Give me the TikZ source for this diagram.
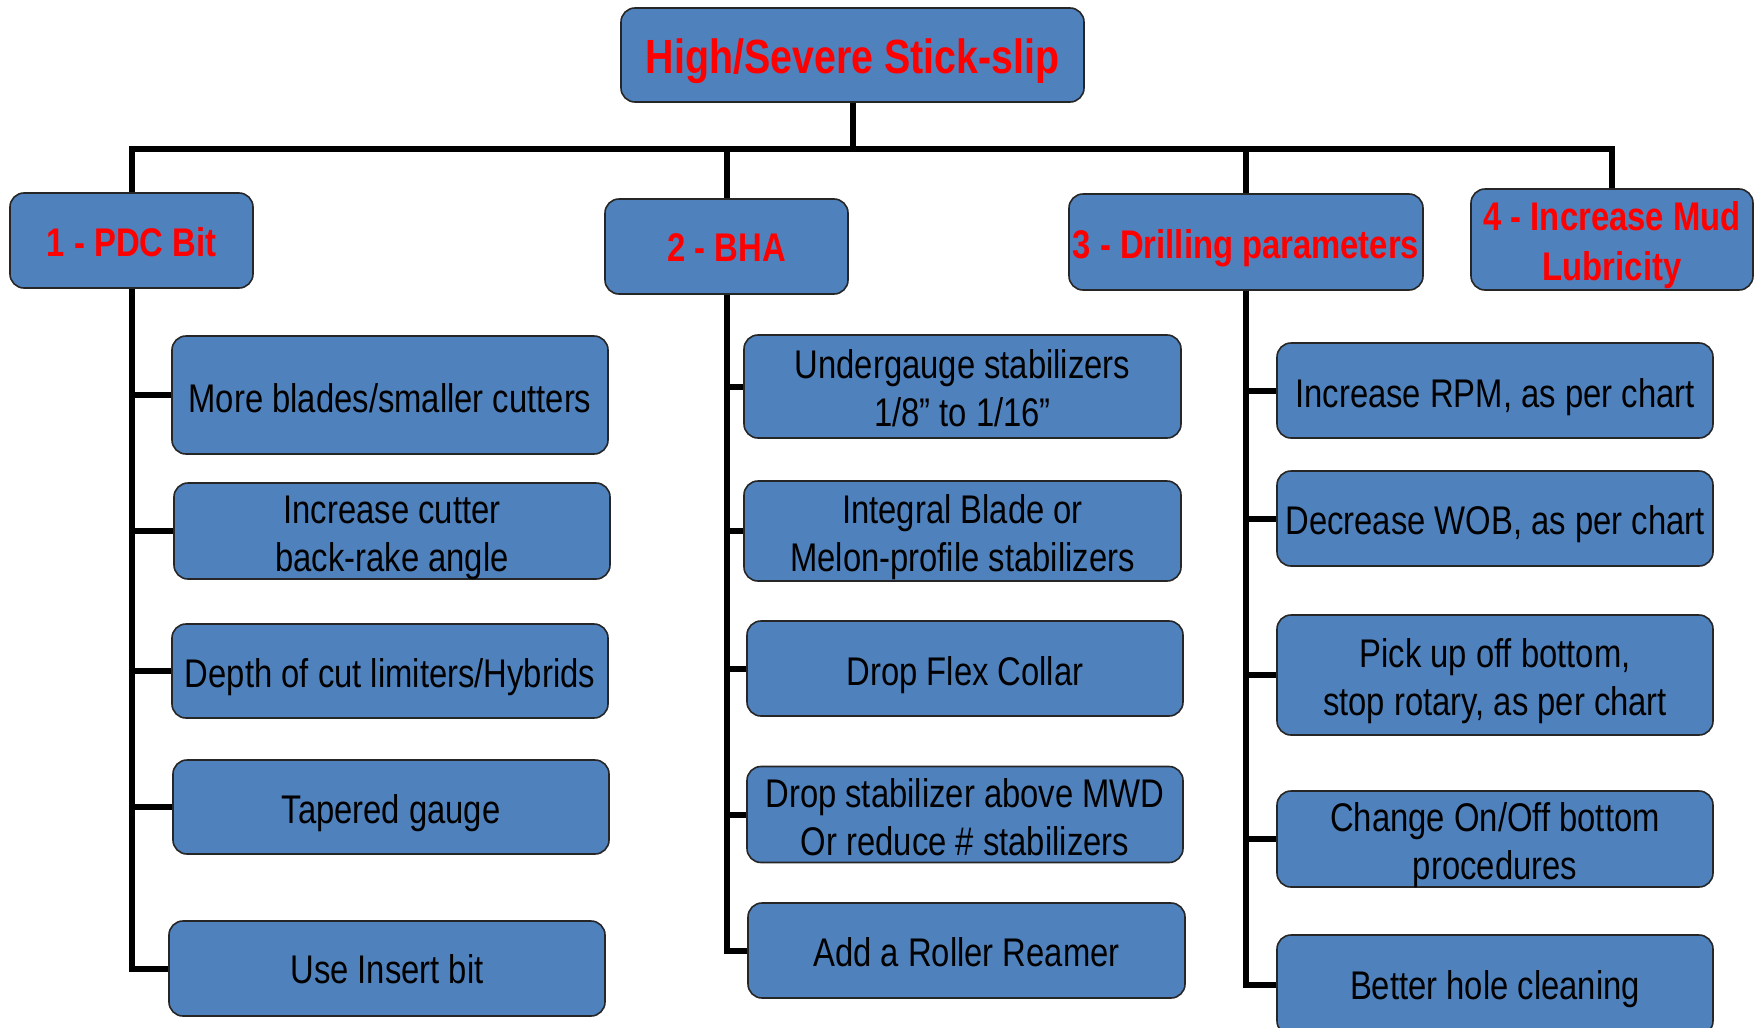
\documentclass[tikz,border=0pt]{standalone}
\usepackage{fontspec}
\setmainfont{Liberation Sans}[FakeStretch=0.82]
\definecolor{boxblue}{HTML}{4F81BD}
\definecolor{headred}{HTML}{FF0000}
\newcommand\lowtext[2][6pt]{\raisebox{-#1}[\height][\depth]{\begin{tabular}{@{}c@{}}#2\end{tabular}}}
\begin{document}
\begin{tikzpicture}[x=1pt,y=-1pt,
  box/.style={draw=black!85, line width=1.6pt, fill=boxblue, rounded corners=14pt, inner sep=0pt},
  sub/.style={box, font=\fontsize{40}{48}\selectfont, text=black},
  head/.style={box, font=\fontsize{40}{48}\selectfont\bfseries, text=headred},
  conn/.style={line width=6pt, line join=miter, draw=black}]
\useasboundingbox (0,0) rectangle (1762,1028);
% title
\node[box, font=\fontsize{48}{56}\selectfont\bfseries, text=headred, minimum width=463, minimum height=94] (title) at (852.5,55) {\lowtext[7pt]{High/Severe Stick-slip}};
% level 1
\node[head, minimum width=243, minimum height=95] (pdc) at (131.5,240.5) {\lowtext[6pt]{1 - PDC Bit}};
\node[head, minimum width=243, minimum height=95] (bha) at (726.5,246.5) {\lowtext[5pt]{2 - BHA}};
\node[head, minimum width=354, minimum height=96] (drill) at (1246,242) {\lowtext[7pt]{3 - Drilling parameters}};
\node[head, font=\fontsize{40}{50}\selectfont\bfseries, minimum width=282, minimum height=101] (mud) at (1612,239.5) {\lowtext[6pt]{4 - Increase Mud\\Lubricity}};
% PDC column
\node[sub, minimum width=436, minimum height=118] (a1) at (390,395) {\lowtext[8pt]{More blades/smaller cutters}};
\node[sub, minimum width=436, minimum height=96] (a2) at (392,531) {\lowtext[7pt]{Increase cutter\\back-rake angle}};
\node[sub, minimum width=436, minimum height=94] (a3) at (390,671) {\lowtext[7pt]{Depth of cut limiters/Hybrids}};
\node[sub, minimum width=436, minimum height=94] (a4) at (391,807) {\lowtext[7pt]{Tapered gauge}};
\node[sub, minimum width=436, minimum height=95] (a5) at (387,968.5) {\lowtext[5pt]{Use Insert bit}};
% BHA column
\node[sub, minimum width=437, minimum height=103] (b1) at (962.5,386.5) {\lowtext[6pt]{Undergauge stabilizers\\1/8” to 1/16”}};
\node[sub, minimum width=437, minimum height=100] (b2) at (962.5,531) {\lowtext[7pt]{Integral Blade or\\Melon-profile stabilizers}};
\node[sub, minimum width=436, minimum height=95] (b3) at (965,668.5) {\lowtext[7pt]{Drop Flex Collar}};
\node[sub, minimum width=436, minimum height=95] (b4) at (965,814.5) {\lowtext[7pt]{Drop stabilizer above MWD\\Or reduce \# stabilizers}};
\node[sub, minimum width=437, minimum height=95] (b5) at (966.5,950.5) {\lowtext[6pt]{Add a Roller Reamer}};
% Drilling column
\node[sub, minimum width=436, minimum height=95] (c1) at (1495,390.5) {\lowtext[7pt]{Increase RPM, as per chart}};
\node[sub, minimum width=436, minimum height=95] (c2) at (1495,518.5) {\lowtext[6pt]{Decrease WOB, as per chart}};
\node[sub, minimum width=436, minimum height=120] (c3) at (1495,675) {\lowtext[7pt]{Pick up off bottom,\\stop rotary, as per chart}};
\node[sub, minimum width=436, minimum height=96] (c4) at (1495,839) {\lowtext[7pt]{Change On/Off bottom\\procedures}};
\node[sub, minimum width=436, minimum height=100] (c5) at (1495,985) {\lowtext[5pt]{Better hole cleaning}};
% connectors
\draw[conn] (title.south) -- ++(0,46) coordinate (hub);
\draw[conn] (hub) -| (pdc.north);
\draw[conn] (hub) -| (bha.north);
\draw[conn] (hub) -| (drill.north);
\draw[conn] (hub) -| (mud.north);
\foreach \s in {a1,a2,a3,a4,a5} \draw[conn] (pdc.south) |- (\s.west);
\foreach \s in {b1,b2,b3,b4,b5} \draw[conn] (bha.south) |- (\s.west);
\foreach \s in {c1,c2,c3,c4,c5} \draw[conn] (drill.south) |- (\s.west);
\end{tikzpicture}
\end{document}
